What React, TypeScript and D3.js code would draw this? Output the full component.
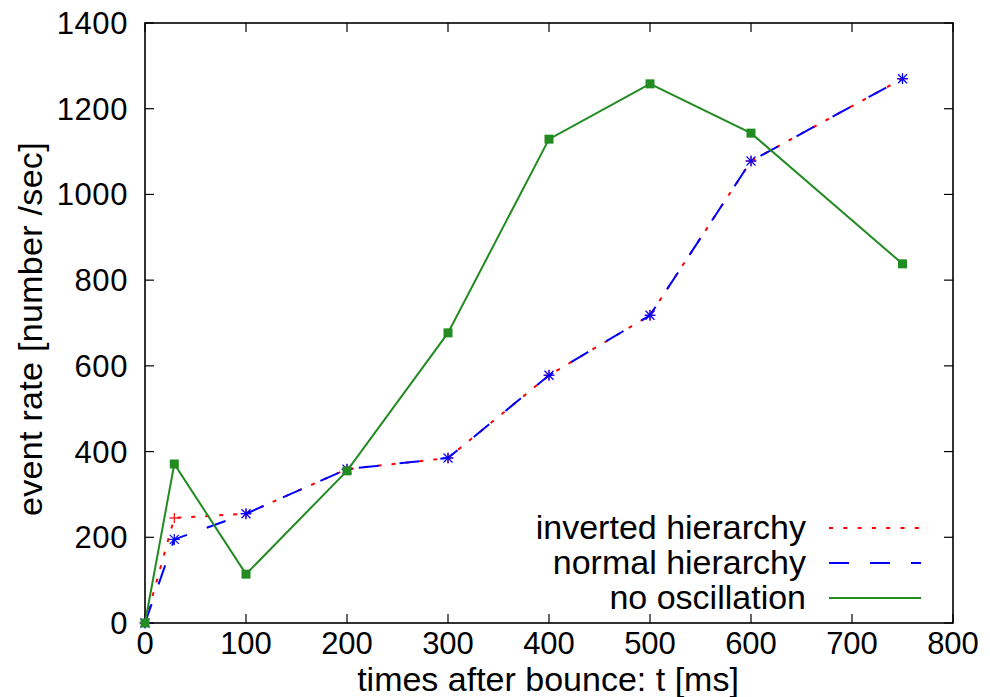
import React from "react";
import * as d3 from "d3";

const times = [0, 29, 100, 200, 300, 400, 500, 600, 750];
const inverted = [0, 245, 255, 359, 385, 578, 718, 1078, 1270];
const normal = [0, 195, 255, 359, 385, 578, 718, 1078, 1270];
const noOscillation = [0, 371, 114, 355, 677, 1129, 1258, 1143, 838];

const xTicks = [0, 100, 200, 300, 400, 500, 600, 700, 800];
const yTicks = [0, 200, 400, 600, 800, 1000, 1200, 1400];

const seriesNames = ["inverted hierarchy", "normal hierarchy", "no oscillation"];

const W = 990;
const H = 697;
const left = 145;
const right = 953;
const top = 23;
const bottom = 623;
const FONT = "'Liberation Sans', Arial, Helvetica, sans-serif";

export default function App() {
  const x = d3.scaleLinear().domain([0, 800]).range([left, right]);
  const y = d3.scaleLinear().domain([0, 1400]).range([bottom, top]);

  const line = d3
    .line<[number, number]>()
    .x((d) => x(d[0]))
    .y((d) => y(d[1]));

  const invPts = times.map((t, i) => [t, inverted[i]] as [number, number]);
  const normPts = times.map((t, i) => [t, normal[i]] as [number, number]);
  const noPts = times.map((t, i) => [t, noOscillation[i]] as [number, number]);

  const tickLen = 9;
  const legendRows = [528, 563, 598];

  return (
    <svg
      width={W}
      height={H}
      style={{ position: "absolute", left: 0, top: 0, background: "#fff" }}
      fontFamily={FONT}
    >
      <rect x={0} y={0} width={W} height={H} fill="#fff" />
      {xTicks.map((t) => (
        <g key={"xt" + t}>
          <line x1={x(t)} x2={x(t)} y1={bottom} y2={bottom - tickLen} stroke="#000" strokeWidth={1.2} />
          <line x1={x(t)} x2={x(t)} y1={top} y2={top + tickLen} stroke="#000" strokeWidth={1.2} />
          <text x={x(t)} y={bottom + 31} fontSize={31} textAnchor="middle" fill="#000">
            {t}
          </text>
        </g>
      ))}
      {yTicks.map((t) => (
        <g key={"yt" + t}>
          <line x1={left} x2={left + tickLen} y1={y(t)} y2={y(t)} stroke="#000" strokeWidth={1.2} />
          <line x1={right} x2={right - tickLen} y1={y(t)} y2={y(t)} stroke="#000" strokeWidth={1.2} />
          <text x={128} y={y(t) + 11} fontSize={31} textAnchor="end" letterSpacing={0.6} fill="#000">
            {t}
          </text>
        </g>
      ))}
      <rect x={left} y={top} width={right - left} height={bottom - top} fill="none" stroke="#000" strokeWidth={1.6} />

      <text x={(left + right) / 2 - 1} y={691} fontSize={34} textAnchor="middle" fill="#000">
        times after bounce: t [ms]
      </text>
      <text
        transform={`translate(42, ${(top + bottom) / 2 + 6}) rotate(-90)`}
        fontSize={34}
        textAnchor="middle"
        letterSpacing={0.3}
        fill="#000"
      >
        event rate [number /sec]
      </text>

      {/* inverted hierarchy */}
      <path d={line(invPts) || ""} fill="none" stroke="#ff0000" strokeWidth={2} strokeDasharray="4,10" />
      {invPts.map((p, i) => (
        <g key={"ip" + i} stroke="#ff0000" strokeWidth={1.2}>
          <line x1={x(p[0]) - 5} x2={x(p[0]) + 5} y1={y(p[1])} y2={y(p[1])} />
          <line x1={x(p[0])} x2={x(p[0])} y1={y(p[1]) - 5} y2={y(p[1]) + 5} />
        </g>
      ))}

      {/* normal hierarchy */}
      <path d={line(normPts) || ""} fill="none" stroke="#0000ff" strokeWidth={2} strokeDasharray="20,21" />
      {normPts.map((p, i) => (
        <g key={"np" + i} stroke="#0000ff" strokeWidth={1.2}>
          <line x1={x(p[0]) - 5.5} x2={x(p[0]) + 5.5} y1={y(p[1])} y2={y(p[1])} />
          <line x1={x(p[0])} x2={x(p[0])} y1={y(p[1]) - 5.5} y2={y(p[1]) + 5.5} />
          <line x1={x(p[0]) - 4.5} x2={x(p[0]) + 4.5} y1={y(p[1]) - 4.5} y2={y(p[1]) + 4.5} />
          <line x1={x(p[0]) - 4.5} x2={x(p[0]) + 4.5} y1={y(p[1]) + 4.5} y2={y(p[1]) - 4.5} />
        </g>
      ))}

      {/* no oscillation */}
      <path d={line(noPts) || ""} fill="none" stroke="#228b22" strokeWidth={2} />
      {noPts.map((p, i) => (
        <rect key={"gp" + i} x={x(p[0]) - 4.5} y={y(p[1]) - 4.5} width={9} height={9} fill="#228b22" />
      ))}

      {/* legend */}
      {seriesNames.map((name, i) => (
        <text key={"lt" + i} x={806} y={legendRows[i] + 11} fontSize={34} textAnchor="end" fill="#000">
          {name}
        </text>
      ))}
      <line x1={829} x2={921} y1={legendRows[0]} y2={legendRows[0]} stroke="#ff0000" strokeWidth={2} strokeDasharray="4,10.3" />
      <line x1={829} x2={921} y1={legendRows[1]} y2={legendRows[1]} stroke="#0000ff" strokeWidth={2} strokeDasharray="20,21" />
      <line x1={829} x2={921} y1={legendRows[2]} y2={legendRows[2]} stroke="#228b22" strokeWidth={2} />
    </svg>
  );
}
